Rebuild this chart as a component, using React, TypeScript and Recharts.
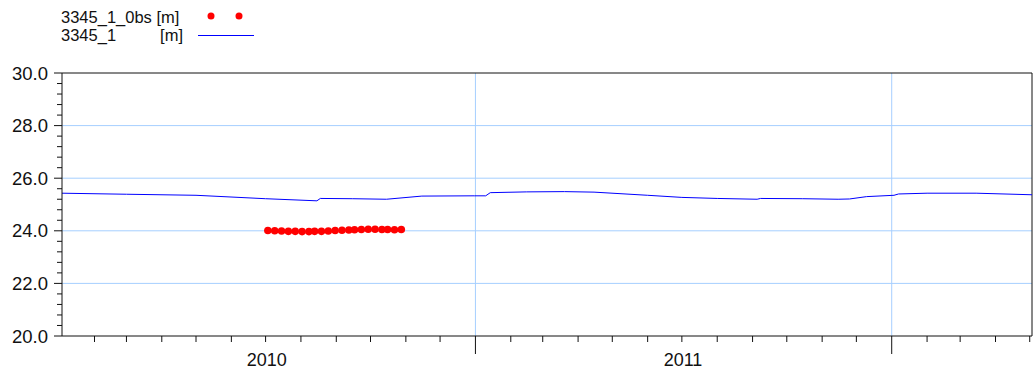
import React from 'react';
import { ComposedChart, Line, Scatter, XAxis, YAxis, ReferenceLine } from 'recharts';

// simulated water level, 3345_1 [m]
const simDates = [
  '2010-01-03', '2010-03-01', '2010-05-01', '2010-07-01', '2010-08-15', '2010-08-18',
  '2010-09-15', '2010-10-15', '2010-11-15', '2010-12-31', '2011-01-10', '2011-01-14',
  '2011-02-15', '2011-03-20', '2011-04-15', '2011-06-01', '2011-07-01', '2011-08-01',
  '2011-09-05', '2011-09-08', '2011-10-15', '2011-11-15', '2011-11-25', '2011-12-10',
  '2012-01-03', '2012-01-07', '2012-02-01', '2012-03-15', '2012-05-03',
];
const simLevels = [
  25.43, 25.39, 25.35, 25.22, 25.14, 25.23,
  25.22, 25.2, 25.32, 25.33, 25.33, 25.45,
  25.48, 25.49, 25.47, 25.35, 25.27, 25.23,
  25.2, 25.23, 25.22, 25.2, 25.21, 25.3,
  25.35, 25.4, 25.43, 25.43, 25.37,
];

// observed water level, 3345_1_0bs [m]
const obsDates = [
  '2010-07-03', '2010-07-09', '2010-07-15', '2010-07-21', '2010-07-27', '2010-08-02',
  '2010-08-08', '2010-08-13', '2010-08-19', '2010-08-25', '2010-08-31', '2010-09-06',
  '2010-09-12', '2010-09-17', '2010-09-23', '2010-09-29', '2010-10-05', '2010-10-11',
  '2010-10-16', '2010-10-22', '2010-10-28',
];
const obsLevels = [
  24.01, 24.0, 23.99, 23.98, 23.98, 23.97,
  23.97, 23.98, 23.98, 23.99, 24.01, 24.02,
  24.03, 24.04, 24.05, 24.06, 24.06, 24.05,
  24.05, 24.04, 24.05,
];

const monthTicks = [
  '2010-02-01', '2010-03-01', '2010-04-01', '2010-05-01', '2010-06-01', '2010-07-01',
  '2010-08-01', '2010-09-01', '2010-10-01', '2010-11-01', '2010-12-01',
  '2011-02-01', '2011-03-01', '2011-04-01', '2011-05-01', '2011-06-01', '2011-07-01',
  '2011-08-01', '2011-09-01', '2011-10-01', '2011-11-01', '2011-12-01',
  '2012-02-01', '2012-03-01', '2012-04-01', '2012-05-01',
];
const yearTicks = ['2011-01-01', '2012-01-01'];
const yearLabels = ['2010', '2011'];
const yearLabelDates = ['2010-07-02', '2011-07-02'];

const yTicks = [
  20, 20.4, 20.8, 21.2, 21.6, 22, 22.4, 22.8, 23.2, 23.6, 24, 24.4, 24.8,
  25.2, 25.6, 26, 26.4, 26.8, 27.2, 27.6, 28, 28.4, 28.8, 29.2, 29.6, 30,
];
const yLabels = ['20.0', '22.0', '24.0', '26.0', '28.0', '30.0'];
const yGrid = [22, 24, 26, 28];

const ts = (d: string) => Date.parse(d + 'T00:00:00Z');

const xStart = Date.parse('2010-01-03T12:00:00Z');
const xEnd = Date.parse('2012-05-03T00:00:00Z');

const simData = simDates.map((d, i) => ({ t: ts(d), level: simLevels[i] }));
const obsData = obsDates.map((d, i) => ({ t: ts(d), level: obsLevels[i] }));

const majorX = yearTicks.map(ts);
const labelX = yearLabelDates.map(ts);
const allXTicks = [...monthTicks.map(ts), ...majorX, ...labelX].sort((a, b) => a - b);

const FONT = '"Liberation Sans", Arial, sans-serif';
const GRID = '#a6cfff';
const AXIS = '#111';

const XTick = (props: any) => {
  const { x, y, payload } = props;
  const v = payload.value as number;
  const li = labelX.indexOf(v);
  if (li >= 0) {
    return (
      <text x={x} y={y + 30} textAnchor="middle" fontSize={18} fontFamily={FONT} fill="#111">
        {yearLabels[li]}
      </text>
    );
  }
  const len = majorX.includes(v) ? 18 : 6;
  return <line x1={x} x2={x} y1={y} y2={y + len} stroke={AXIS} strokeWidth={1} />;
};

const YTick = (props: any) => {
  const { x, y, payload } = props;
  const v = payload.value as number;
  const label = yLabels.find((l) => Math.abs(parseFloat(l) - v) < 1e-6);
  return (
    <g>
      <line x1={x - (label ? 8 : 5)} x2={x} y1={y} y2={y} stroke={AXIS} strokeWidth={1} />
      {label && (
        <text x={x - 14} y={y + 6.5} textAnchor="end" fontSize={18.5} fontFamily={FONT} fill="#111">
          {label}
        </text>
      )}
    </g>
  );
};

function SeriesKey() {
  return (
    <svg width={270} height={50} style={{ position: 'absolute', left: 0, top: 0 }}>
      <g fontFamily={FONT} fontSize={16.5} fill="#111">
        <text x={61} y={23}>3345_1_0bs [m]</text>
        <text x={61} y={41}>3345_1</text>
        <text x={183} y={41} textAnchor="end">[m]</text>
      </g>
      <circle cx={211} cy={16} r={3.5} fill="#ff0000" />
      <circle cx={239} cy={16} r={3.5} fill="#ff0000" />
      <line x1={198} x2={254} y1={35.5} y2={35.5} stroke="#0000ff" strokeWidth={1} />
    </svg>
  );
}

export default function App() {
  return (
    <div style={{ position: 'absolute', left: 0, top: 0, width: 1035, height: 376, background: '#fff' }}>
      <SeriesKey />
      <ComposedChart width={1035} height={376} margin={{ top: 73, right: 3, bottom: 0, left: 0 }}>
        <XAxis
          type="number"
          dataKey="t"
          domain={[xStart, xEnd]}
          allowDataOverflow
          ticks={allXTicks}
          interval={0}
          tick={<XTick />}
          tickLine={false}
          tickSize={0}
          tickMargin={0}
          height={40}
          axisLine={{ stroke: AXIS }}
        />
        <YAxis
          type="number"
          domain={[20, 30]}
          ticks={yTicks}
          interval={0}
          tick={<YTick />}
          tickLine={false}
          tickSize={0}
          tickMargin={0}
          width={62}
          axisLine={{ stroke: AXIS }}
        />
        {yGrid.map((v) => (
          <ReferenceLine key={v} y={v} stroke={GRID} strokeWidth={1} />
        ))}
        {majorX.map((v) => (
          <ReferenceLine key={v} x={v} stroke={GRID} strokeWidth={1} />
        ))}
        <ReferenceLine y={30} stroke={AXIS} strokeWidth={1} />
        <ReferenceLine x={xEnd} stroke={AXIS} strokeWidth={1} />
        <Line
          data={simData}
          dataKey="level"
          type="linear"
          stroke="#0000ff"
          strokeWidth={1}
          dot={false}
          activeDot={false}
          isAnimationActive={false}
        />
        <Scatter
          data={obsData}
          dataKey="level"
          fill="#ff0000"
          shape={(p: any) => <circle cx={p.cx} cy={p.cy} r={3.8} fill="#ff0000" />}
          isAnimationActive={false}
        />
      </ComposedChart>
    </div>
  );
}
